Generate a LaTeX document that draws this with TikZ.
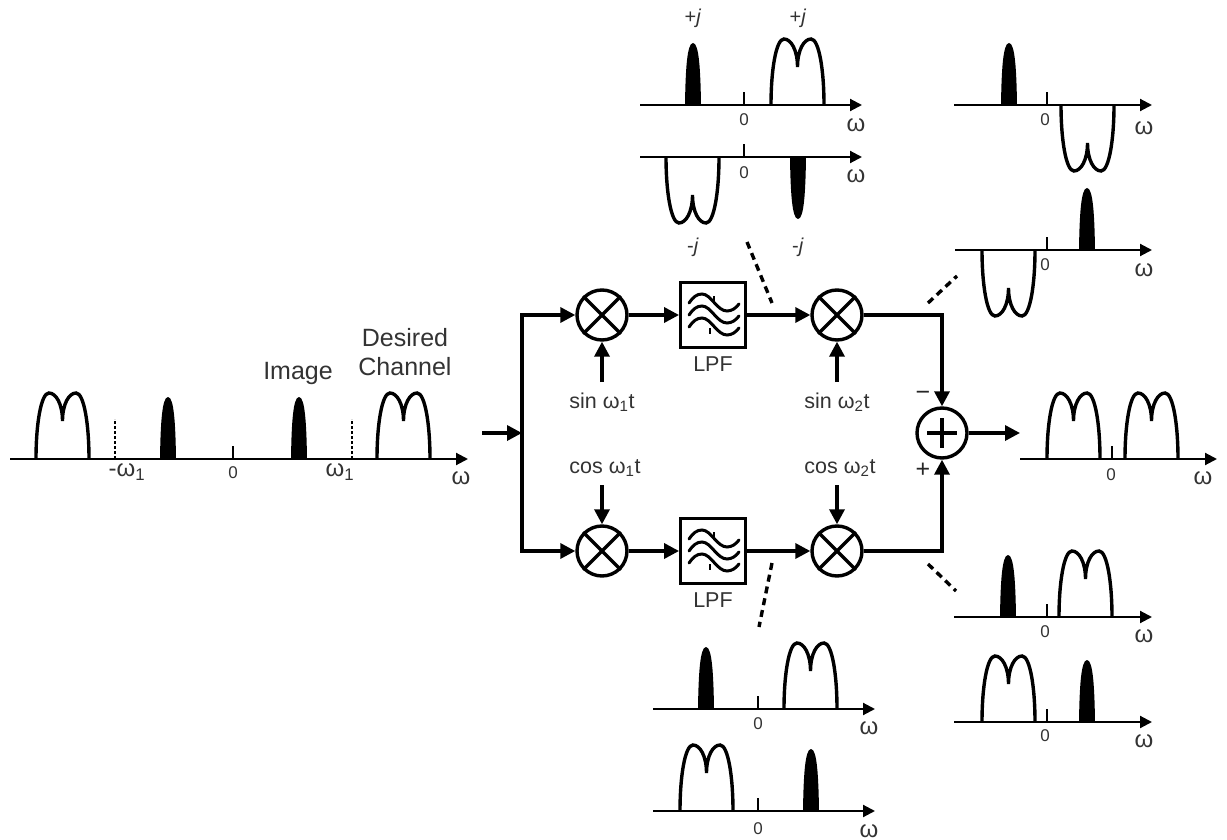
\documentclass[tikz,border=0pt]{standalone}
\usepackage{fontspec}
\setmainfont{Liberation Sans}
\usepackage{xcolor}
\usetikzlibrary{positioning,arrows.meta,calc}
\tikzset{
  sig/.style={line width=3.4pt,-{Triangle[length=15pt,width=15pt]}},
  wire/.style={line width=3.4pt},
  axisline/.style={line width=2.1pt,-{Triangle[length=12pt,width=12pt]}},
  tickline/.style={line width=1.8pt},
  dotline/.style={line width=1.9pt,dash pattern=on 3pt off 2pt},
  leader/.style={line width=3.4pt,dash pattern=on 7pt off 5pt},
  mixer/.style={circle,draw,line width=3.4pt,minimum size=50pt,inner sep=0pt},
  filterbox/.style={draw,line width=3.4pt,minimum size=64.5pt,inner sep=0pt},
  lab/.style={font=\fontsize{21.5}{24}\selectfont,text=black!80,inner sep=0pt},
  biglab/.style={font=\fontsize{25}{29}\selectfont,text=black!80,inner sep=0pt,align=center},
  zerolab/.style={font=\fontsize{17}{19}\selectfont,text=black!80,inner sep=0pt},
  omlab/.style={font=\fontsize{24}{26}\selectfont,text=black!80,inner sep=0pt},
  jlab/.style={font=\fontsize{20}{22}\selectfont,text=black!80,inner sep=0pt},
  signlab/.style={font=\fontsize{25}{27}\selectfont,text=black!85,inner sep=0pt},
  chan/.pic={
    \draw[line width=3.4pt] (0,0) .. controls (0,-35) and (5,-66) .. (13,-66)
      .. controls (20,-66) and (26.5,-55) .. (26.5,-38)
      .. controls (26.5,-55) and (33,-66) .. (40,-66)
      .. controls (48,-66) and (53,-35) .. (53,0);
  },
  pulse/.pic={
    \fill (0,0) .. controls (0.5,-35) and (2,-62) .. (8,-62)
      .. controls (14,-62) and (15.5,-35) .. (16,0) -- cycle;
  },
  waves/.pic={
    \foreach \dy in {-12,0,12}
      \draw[line width=3pt,line cap=round] (-24,\dy) .. controls (-20,{\dy-6}) and (-16,{\dy-9}) .. (-11,{\dy-9})
        .. controls (-2,{\dy-9}) and (4,{\dy+8}) .. (14,{\dy+8})
        .. controls (19,{\dy+8}) and (23,{\dy+5}) .. (26,{\dy+1});
    \draw[line width=2.4pt] (1,-19) -- (1,-13);
    \draw[line width=2.4pt] (-3,13) -- (-3,19);
  }
}
\begin{document}
\begin{tikzpicture}[x=1pt,y=-1pt]
  \useasboundingbox (0,0) rectangle (1227,840);
  % axes: id / start / end / height / zero tick / label x / label y / omega x / omega y
  \foreach \i/\xa/\xb/\yy/\xz/\xl/\yl/\xo/\yo in {
      main/10/468/459/233/233/473/461/478,
      topa/640/862/105/744/744/120/856/125,
      topb/640/862/157/744/744/173/856/176,
      rta/954/1152/105/1047/1045/120/1144/128,
      rtb/955/1152/250/1047/1045/265/1144/270,
      outp/1020/1217/459/1112/1111/475/1203/478,
      rba/954/1152/617/1047/1045/632/1144/636,
      rbb/954/1152/722/1047/1045/736/1144/741,
      bota/653/875/709/758/758/724/869/728,
      botb/653/875/811/758/758/829/869/831}{
    \coordinate (\i s) at (\xa,\yy);
    \coordinate (\i e) at (\xb,\yy);
    \coordinate (\i z) at (\xz,\yy);
    \draw[axisline] (\i s) -- (\i e);
    \draw[tickline] (\i z) -- ++(0,-13);
    \node[zerolab] (\i zero) at (\xl,\yl) {0};
    \node[omlab] (\i om) at (\xo,\yo) {ω};
  }
  % spectra above the axis
  \foreach \xx/\yy in {36/459,377/459,771/105,1047/459,1125/459,1059/617,784/709,982/722,680/811}
    \pic at (\xx,\yy) {chan};
  \foreach \xx/\yy in {160/459,291/459,685/105,1001/105,1079/250,1000/617,698/709,1079/722,803/811}
    \pic at (\xx,\yy) {pulse};
  % spectra below the axis
  \foreach \xx/\yy in {666/157,1061/105,982/250}
    \pic[yscale=-1] at (\xx,\yy) {chan};
  \pic[yscale=-1] at (790,157) {pulse};
  % markers at the local oscillator
  \coordinate (lomA) at (115,459);
  \coordinate (lomB) at (352,459);
  \draw[dotline] (lomA) -- ++(0,-40);
  \draw[dotline] (lomB) -- ++(0,-40);
  % main labels
  \node[omlab] (wneg) at (127,472) {-ω\textsubscript{1}};
  \node[omlab] (wpos) at (340,472) {ω\textsubscript{1}};
  \node[biglab] (imagelab) at (298,373) {Image};
  \node[biglab] (desired) at (405,352.5) {Desired\\Channel};
  \foreach \n/\xx/\yy/\txt in {a/693/18/+,b/798/18/+,c/693/247/-,d/798/247/-}
    \node[jlab] (jay\n) at (\xx,\yy) {\txt\textit{j}};
  % blocks
  \node[mixer] (mixA) at (602,315) {};
  \node[mixer] (mixB) at (602,551) {};
  \node[mixer] (mixC) at (837,315) {};
  \node[mixer] (mixD) at (837,551) {};
  \node[mixer] (sum) at (942,433) {};
  \node[filterbox] (lpfA) at (713,315) {};
  \node[filterbox] (lpfB) at (713,551) {};
  \foreach \m in {mixA,mixB,mixC,mixD}{
    \draw[wire,line cap=butt] (\m.45) -- (\m.225);
    \draw[wire,line cap=butt] (\m.135) -- (\m.315);
  }
  \draw[wire] ($(sum)+(-15,0)$) -- ($(sum)+(15,0)$);
  \draw[wire] ($(sum)+(0,-15)$) -- ($(sum)+(0,15)$);
  \pic at (lpfA) {waves};
  \pic at (lpfB) {waves};
  \node[lab,below=8pt of lpfA] (lpfAlab) {LPF};
  \node[lab,below=8pt of lpfB] (lpfBlab) {LPF};
  \node[lab] (sinA) at (602,402) {sin ω\textsubscript{1}t};
  \node[lab] (cosA) at (605,468) {cos ω\textsubscript{1}t};
  \node[lab] (sinB) at (837,402) {sin ω\textsubscript{2}t};
  \node[lab] (cosB) at (840,468) {cos ω\textsubscript{2}t};
  \node[signlab] (minus) at (923,396) {−};
  \node[signlab] (plus) at (923,470) {+};
  % signal path
  \coordinate (inp) at (482,433);
  \coordinate (busM) at (522,433);
  \coordinate (busT) at (522,315);
  \coordinate (busB) at (522,551);
  \coordinate (outp) at (1020,433);
  \draw[sig] (inp) -- (busM);
  \draw[wire,line cap=rect] (busT) -- (busB);
  \draw[sig] (busT) -- (mixA);
  \draw[sig] (busB) -- (mixB);
  \draw[sig] (mixA) -- (lpfA);
  \draw[sig] (mixB) -- (lpfB);
  \draw[sig] (lpfA) -- (mixC);
  \draw[sig] (lpfB) -- (mixD);
  \draw[sig] (mixC) -| (sum);
  \draw[sig] (mixD) -| (sum);
  \draw[sig] (sum) -- (outp);
  % local oscillator inputs
  \coordinate (loA) at (602,382);
  \coordinate (loB) at (602,485);
  \coordinate (loC) at (837,382);
  \coordinate (loD) at (837,485);
  \draw[sig] (loA) -- (mixA);
  \draw[sig] (loB) -- (mixB);
  \draw[sig] (loC) -- (mixC);
  \draw[sig] (loD) -- (mixD);
  % dashed leaders to the spectra
  \foreach \i/\xa/\ya/\xb/\yb in {a/747/242/772/303,b/928/303/957/276,c/928/564/956/591,d/772/563/759/627}{
    \coordinate (ld\i s) at (\xa,\ya);
    \coordinate (ld\i e) at (\xb,\yb);
    \draw[leader] (ld\i s) -- (ld\i e);
  }
\end{tikzpicture}
\end{document}
